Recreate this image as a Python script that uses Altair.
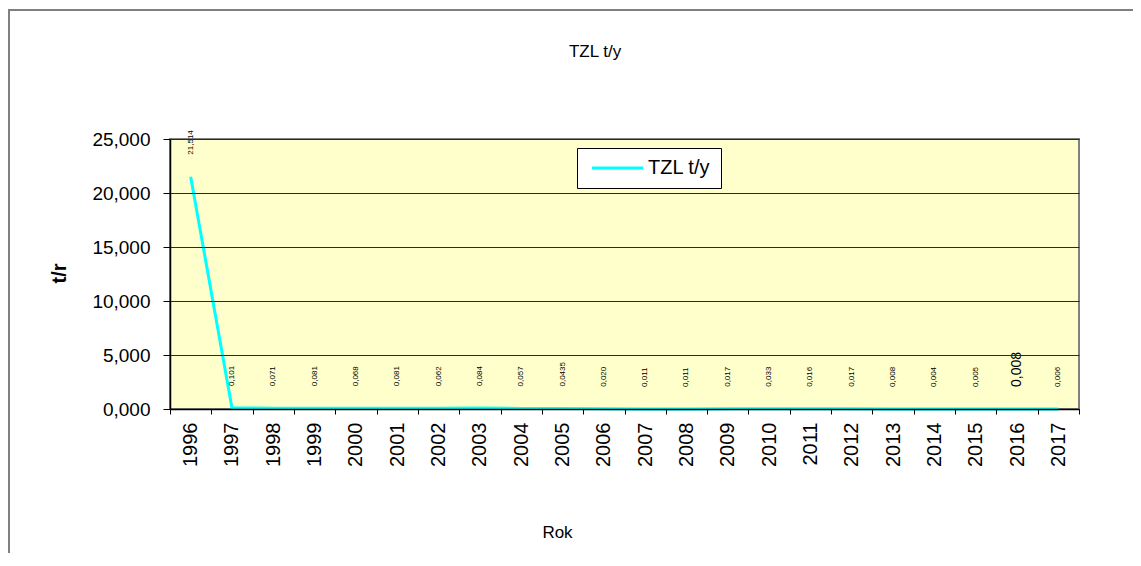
import altair as alt
import pandas as pd

years = list(range(1996, 2018))
values = [21.514, 0.101, 0.071, 0.081, 0.068, 0.081, 0.062, 0.084, 0.057, 0.0435,
          0.020, 0.011, 0.011, 0.017, 0.033, 0.016, 0.017, 0.008, 0.004, 0.005,
          0.008, 0.006]
labels = ["21,514", "0,101", "0,071", "0,081", "0,068", "0,081", "0,062", "0,084",
          "0,057", "0,0435", "0,020", "0,011", "0,011", "0,017", "0,033", "0,016",
          "0,017", "0,008", "0,004", "0,005", "0,008", "0,006"]
series_name = "TZL t/y"
chart_title = "TZL t/y"
y_ticks = [0, 5, 10, 15, 20, 25]

df = pd.DataFrame({"year": years, "value": values, "label": labels,
                   "series": [series_name] * len(years)})

FONT = "Liberation Sans"
W, H = 909, 270

x_enc = alt.X("year:O", title="Rok",
              scale=alt.Scale(type="band", paddingInner=0, paddingOuter=0),
              axis=alt.Axis(labelAngle=270, labelAlign="right", labelBaseline="middle",
                            labelFontSize=20, labelFont=FONT, labelColor="black",
                            labelPadding=8, tickBand="extent", tickSize=5,
                            tickColor="black", domainColor="black", domainWidth=1.5,
                            titleFont=FONT, titleFontSize=17, titleFontWeight="normal",
                            titleColor="black",
                            titleX=387, titleY=128, titleBaseline="alphabetic",
                            titleAlign="center", zindex=1))
y_enc = alt.Y("value:Q", title="t/r",
              scale=alt.Scale(domain=[0, 25], nice=False),
              axis=alt.Axis(values=y_ticks, labelFontSize=19, labelFont=FONT,
                            labelColor="black", labelPadding=13, tickSize=7,
                            tickColor="black", domainColor="black", domainWidth=1.5,
                            gridColor="#2a2a2a", gridWidth=1,
                            labelExpr="replace(format(datum.value, '.3f'), '.', ',')",
                            titleFont=FONT, titleFontSize=20, titleFontWeight="bold",
                            titleColor="black",
                            titleX=-111, titleY=134, titleBaseline="middle",
                            titleAlign="center", zindex=1))

line = alt.Chart(df).mark_line(strokeWidth=3).encode(
    x=x_enc, y=y_enc,
    color=alt.Color("series:N",
                    scale=alt.Scale(domain=[series_name], range=["#00FFFF"]),
                    legend=alt.Legend(title=None, orient="none", legendX=407, legendY=9,
                                      fillColor="white", strokeColor="black",
                                      padding=10, symbolType="M-1,0H9.2",
                                      symbolStrokeWidth=3, symbolSize=100,
                                      labelFontSize=20, labelFont=FONT,
                                      labelColor="black", labelOffset=41,
                                      cornerRadius=0)))

text = alt.Chart(df).mark_text(angle=270, align="left", baseline="middle",
                               yOffset=-22, font=FONT, color="black").encode(
    x="year:O", y="value:Q", text="label:N",
    size=alt.condition(alt.datum.year == 2016, alt.value(14), alt.value(8)))

one = pd.DataFrame({"t": [chart_title]})

frame = alt.Chart(one).mark_rect(
    fill=None, stroke="#808080", strokeWidth=2).encode(
    x=alt.value(-161), x2=alt.value(1200), y=alt.value(-129), y2=alt.value(700))

title = alt.Chart(one).mark_text(font=FONT, fontSize=17, color="black",
                                 align="center", baseline="alphabetic").encode(
    x=alt.value(425), y=alt.value(-82), text="t:N")

chart = alt.layer(frame, title, line, text).properties(
    width=W, height=H,
    autosize=alt.AutoSizeParams(type="none"),
    padding={"left": 162, "top": 131, "right": 54, "bottom": 144},
).configure_view(fill="#FFFFCC", stroke="#808080", strokeWidth=2)

chart.save("out.html", embed_options={"renderer": "svg", "actions": False})
